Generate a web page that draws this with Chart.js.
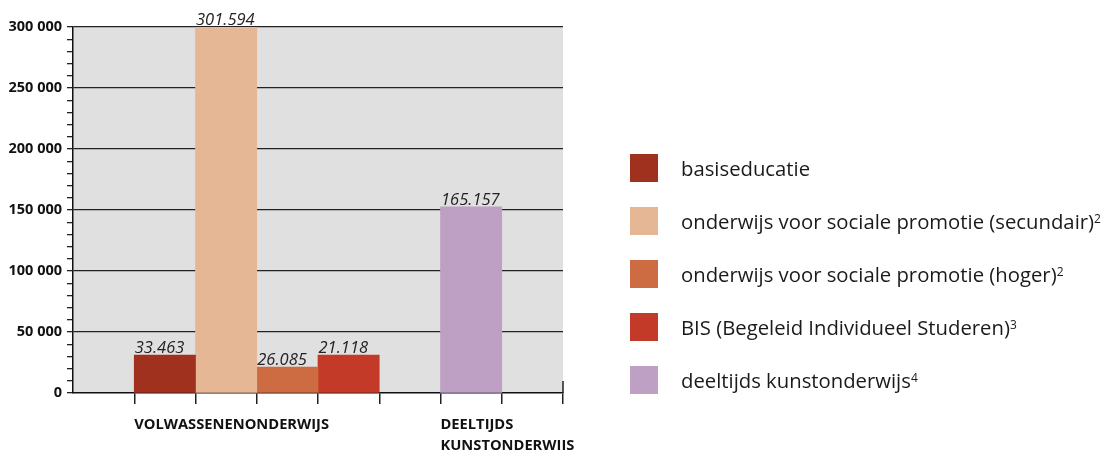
<!DOCTYPE html>
<html>
<head>
<meta charset="utf-8">
<script src="https://cdn.jsdelivr.net/npm/chart.js@4.4.0/dist/chart.umd.min.js"></script>
<style>
  html, body { margin: 0; padding: 0; background: #fff; }
  #wrap { position: relative; width: 1113px; height: 450px; overflow: hidden; }
  #c { position: absolute; left: 0; top: 0; }
  #legend { position: absolute; left: 630px; top: 154px; font-family: "Open Sans", sans-serif; font-size: 20.3px; color: #1a1a1a; }
  .item { display: flex; align-items: center; height: 28px; margin-bottom: 25px; white-space: nowrap; }
  .sw { width: 28px; height: 28px; margin-right: 23px; flex: none; }
  .item sup { font-size: 12px; position: relative; top: -3px; }
</style>
</head>
<body>
<div id="wrap">
  <canvas id="c" width="1113" height="450"></canvas>
  <div id="legend"></div>
</div>
<script>
// ---- data ----
const xSlots = ['', 'b1', 'b2', 'b3', 'b4', '', 'b5', ''];          // category slots along x
const groupLabels = [['VOLWASSENENONDERWIJS'], ['DEELTIJDS', 'KUNSTONDERWIIS']];
const groupFirstSlot = [1, 6];
const seriesNames = [
  'basiseducatie',
  'onderwijs voor sociale promotie (secundair)',
  'onderwijs voor sociale promotie (hoger)',
  'BIS (Begeleid Individueel Studeren)',
  'deeltijds kunstonderwijs'
];
const seriesNotes = ['', '2', '2', '3', '4'];
const seriesSlot = [1, 2, 3, 4, 6];
const barHeights = [31150, 300000, 21300, 31150, 152700];   // bar heights as drawn
const valueLabels = [33463, 301594, 26085, 21118, 165157];  // printed values
const yTickMax = 300000;
const yMajorStep = 50000;
const yMinorStep = 10000;
const seriesColors = ['#A0311F', '#E6B794', '#CD6C42', '#C33B28', '#BDA0C4'];

// ---- build ----
function fmtTick(v) { return String(v).replace(/\B(?=(\d{3})+(?!\d))/g, ' '); }
function fmtVal(v) { return String(v).replace(/\B(?=(\d{3})+(?!\d))/g, '.'); }

const datasets = seriesNames.map((name, i) => {
  const d = xSlots.map(() => null);
  d[seriesSlot[i]] = barHeights[i];
  return {
    label: name, data: d, backgroundColor: seriesColors[i],
    borderWidth: 0, categoryPercentage: 1, barPercentage: 1
  };
});

const lg = document.getElementById('legend');
seriesNames.forEach((n, i) => {
  const it = document.createElement('div'); it.className = 'item';
  const sw = document.createElement('span'); sw.className = 'sw'; sw.style.background = seriesColors[i];
  const tx = document.createElement('span'); tx.textContent = n;
  it.appendChild(sw); it.appendChild(tx);
  if (seriesNotes[i]) { const s = document.createElement('sup'); s.textContent = seriesNotes[i]; it.appendChild(s); }
  lg.appendChild(it);
});

const bgPlugin = {
  id: 'bg',
  beforeDraw(chart) {
    const a = chart.chartArea, ctx = chart.ctx;
    ctx.save(); ctx.fillStyle = '#E0E0E0';
    ctx.fillRect(a.left, a.top, a.right - a.left, a.bottom - a.top);
    ctx.restore();
  },
  afterDraw(chart) {
    const ctx = chart.ctx, a = chart.chartArea, xs = chart.scales.x;
    ctx.save();
    // value labels
    ctx.font = 'italic 16.5px "Open Sans", sans-serif';
    ctx.fillStyle = '#222'; ctx.textAlign = 'left'; ctx.textBaseline = 'alphabetic';
    chart.data.datasets.forEach((ds, i) => {
      const el = chart.getDatasetMeta(i).data[seriesSlot[i]];
      ctx.fillText(fmtVal(valueLabels[i]), el.x - el.width / 2 + 0.5, el.y - 2);
    });
    // group labels
    ctx.font = 'bold 14.7px "Open Sans", sans-serif';
    ctx.fillStyle = '#111';
    const slotW = (a.right - a.left) / xSlots.length;
    groupLabels.forEach((lines, g) => {
      const x0 = xs.getPixelForValue(groupFirstSlot[g]) - slotW / 2;
      lines.forEach((t, k) => ctx.fillText(t, x0, a.bottom + 36 + k * 21));
    });
    // right edge mark
    ctx.strokeStyle = '#222'; ctx.lineWidth = 1.5;
    ctx.beginPath(); ctx.moveTo(a.right, a.bottom - 12); ctx.lineTo(a.right, a.bottom); ctx.stroke();
    ctx.restore();
  }
};

new Chart(document.getElementById('c'), {
  type: 'bar',
  data: { labels: xSlots, datasets },
  options: {
    responsive: false, animation: false,
    layout: { padding: { left: 0, top: 27, right: 550, bottom: 0 } },
    plugins: { legend: { display: false }, tooltip: { enabled: false } },
    scales: {
      x: {
        stacked: true, offset: true,
        grid: {
          offset: true, drawOnChartArea: false, drawTicks: true, tickLength: 11, lineWidth: 1.5,
          tickColor: (c) => (c.index === 0 ? 'rgba(0,0,0,0)' : '#222')
        },
        border: { display: true, color: '#111', width: 1.5 },
        ticks: { display: false },
        afterFit(s) { s.height = 57; }
      },
      y: {
        stacked: true, min: 0, max: yTickMax,
        grid: {
          lineWidth: 1.3, tickLength: 6,
          color: (c) => (c.tick && c.tick.value % yMajorStep === 0 && c.tick.value !== 0 ? '#222' : 'rgba(0,0,0,0)'),
          tickColor: '#222'
        },
        border: { display: true, color: '#111', width: 1.5 },
        ticks: {
          stepSize: yMinorStep, autoSkip: false, padding: 5, color: '#111',
          font: { family: '"Open Sans", sans-serif', weight: 'bold', size: 14.5 },
          callback: (v) => (v % yMajorStep === 0 ? fmtTick(v) : '')
        },
        afterFit(s) { s.width = 73; }
      }
    }
  },
  plugins: [bgPlugin]
});
</script>
</body>
</html>
